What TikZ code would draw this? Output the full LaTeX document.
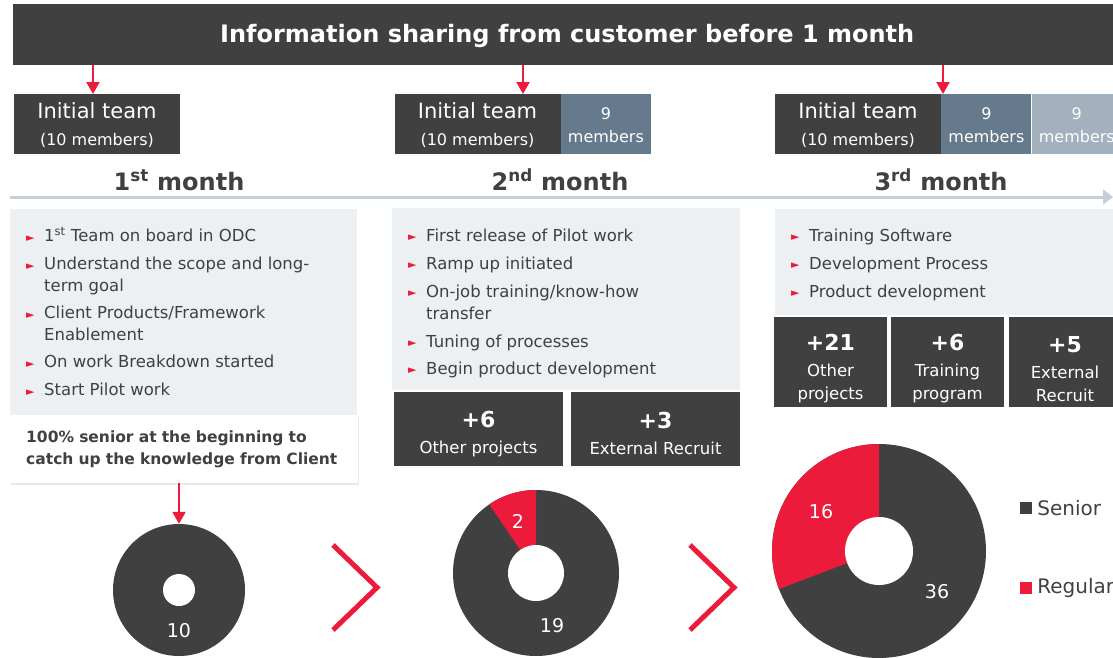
\documentclass[tikz,border=0pt]{standalone}
\usepackage{fontspec}
\setmainfont{DejaVu Sans}
\usetikzlibrary{arrows.meta,positioning,shadows}
\definecolor{dark}{HTML}{404040}
\definecolor{accent}{HTML}{ED1B3B}
\definecolor{slate}{HTML}{667A8D}
\definecolor{slatelt}{HTML}{A3B0BD}
\definecolor{panel}{HTML}{EDF0F3}
\definecolor{rail}{HTML}{C6CFD9}
\newcommand\bl{\makebox[18pt][l]{\raisebox{0.5pt}{\textcolor{accent}{\fontsize{11}{11}\selectfont ►}}}}
\newcommand\ind{\hspace*{18pt}}
\newcommand\firstln{\rule{0pt}{14pt}}
\newcommand\lift[1]{\rule{0pt}{#1pt}}

\begin{document}
\begin{tikzpicture}[x=1pt,y=-1pt,
  redarr/.style={accent,line width=2,-{Triangle[width=13pt,length=12pt]}},
  team/.style={fill=dark,text=white,minimum width=166,minimum height=60,inner sep=0,align=center,
    font=\fontsize{16}{27}\selectfont},
  nine/.style={fill=#1,text=white,minimum width=90,minimum height=60,inner sep=0,align=center,
    font=\fontsize{16}{23}\selectfont},
  month/.style={text=dark,font=\bfseries\fontsize{24}{28}\selectfont},
  plate/.style={fill=panel,anchor=north west,inner sep=0},
  list/.style={text=dark,anchor=north west,inner sep=0,align=left,font=\fontsize{16.5}{22}\selectfont},
  plus/.style={fill=dark,text=white,inner sep=0,align=center,font=\fontsize{16.5}{23}\selectfont},
  ring/.style={circle,fill=dark,inner sep=0},
  hole/.style={circle,fill=white,inner sep=0},
  num/.style={text=white,font=\fontsize{19}{19}\selectfont},
  sq/.style={minimum size=12,inner sep=0}]
\path[use as bounding box,clip] (0,0) rectangle (1113,657);

% header
\node[fill=dark,text=white,anchor=north west,minimum width=1108,minimum height=61,inner sep=0,
  font=\bfseries\fontsize{24}{28}\selectfont] (hdr) at (13,4) {\lift{21}Information sharing from customer before 1 month};

% teams
\node[team] (t1) at (97,124) {{\fontsize{21}{27}\selectfont\lift{18}Initial team}\\(10 members)};
\node[team] (t2) at (477.5,124) {{\fontsize{21}{27}\selectfont\lift{18}Initial team}\\(10 members)};
\node[nine=slate,right=0pt of t2] (t2b) {\lift{15}9\\members};
\node[team] (t3) at (858,124) {{\fontsize{21}{27}\selectfont\lift{18}Initial team}\\(10 members)};
\node[nine=slate,right=0pt of t3] (t3b) {\lift{15}9\\members};
\node[nine=slatelt,right=0pt of t3b] (t3c) {\lift{15}9\\members};
\coordinate (g1) at (93,94);
\coordinate (g2) at (523,94);
\coordinate (g3) at (943,94);
\foreach \g in {g1,g2,g3}
  \draw[redarr] (hdr.south -| \g) -- (\g);

% timeline
\coordinate (tl0) at (10,197);
\coordinate (tl1) at (1113,197);
\draw[rail,line width=3,-{Triangle[width=15pt,length=10pt]}] (tl0) -- (tl1);
\node[month] (m1) at (179,180) {1\textsuperscript{st} month};
\node[month] (m2) at (560,180) {2\textsuperscript{nd} month};
\node[month] (m3) at (941,180) {3\textsuperscript{rd} month};

% month 1
\node[plate,minimum width=347,minimum height=206] (p1) at (10,209) {};
\node[list] (l1) at (26,227) {\firstln\bl 1\textsuperscript{st} Team on board in ODC\\[6pt]
  \bl Understand the scope and long-\\\ind term goal\\[5pt]
  \bl Client Products/Framework\\\ind Enablement\\[5pt]
  \bl On work Breakdown started\\[6pt]
  \bl Start Pilot work};
\node[fill=white,anchor=north west,text width=316,inner xsep=16,minimum height=68,align=left,text=dark,
  font=\bfseries\fontsize{15.5}{22}\selectfont,
  drop shadow={opacity=0.18,shadow xshift=0.5pt,shadow yshift=-1.5pt}] (nt) at (10,415)
  {100\% senior at the beginning to\\catch up the knowledge from Client};

% month 2
\node[plate,minimum width=348,minimum height=182] (p2) at (392,208) {};
\node[list] (l2) at (408,227) {\firstln\bl First release of Pilot work\\[6pt]
  \bl Ramp up initiated\\[6pt]
  \bl On-job training/know-how\\\ind transfer\\[6pt]
  \bl Tuning of processes\\[5pt]
  \bl Begin product development};
\node[plus,minimum width=169,minimum height=74] (b21) at (478.5,429)
  {{\bfseries\fontsize{22}{23}\selectfont\lift{26}+6}\\[3pt]Other projects};
\node[plus,minimum width=169,minimum height=74] (b22) at (655.5,429)
  {{\bfseries\fontsize{22}{23}\selectfont\lift{26}+3}\\[3pt]External Recruit};

% month 3
\node[plate,minimum width=345,minimum height=106] (p3) at (775,209) {};
\node[list] (l3) at (791,227) {\firstln\bl Training Software\\[6pt]
  \bl Development Process\\[6pt]
  \bl Product development};
\node[plus,minimum width=113,minimum height=90] (b31) at (830.5,362)
  {{\bfseries\fontsize{22}{23}\selectfont\lift{30}+21}\\[3pt]Other\\projects};
\node[plus,minimum width=113,minimum height=90] (b32) at (947.5,362)
  {{\bfseries\fontsize{22}{23}\selectfont\lift{30}+6}\\[3pt]Training\\program};
\node[plus,minimum width=113,minimum height=90] (b33) at (1065,362)
  {{\bfseries\fontsize{22}{23}\selectfont\lift{30}+5}\\[3pt]External\\Recruit};

% donuts
\node[ring,minimum size=132] (d1) at (179,590) {};
\node[hole,minimum size=32] (h1) at (d1) {};
\node[num] (n1) at (179,631) {10};
\draw[redarr] (nt.south -| d1.north) -- (d1.north);

\node[ring,minimum size=166] (d2) at (536,573) {};
\fill[accent] (d2.center) -- ++(90:83pt) arc[start angle=90,end angle=124.3,radius=83pt] -- cycle;
\node[hole,minimum size=56] (h2) at (d2) {};
\node[num] (n2a) at (518,521) {2};
\node[num] (n2b) at (552,626) {19};

\node[ring,minimum size=214] (d3) at (879,551) {};
\fill[accent] (d3.center) -- ++(90:107pt) arc[start angle=90,end angle=200.8,radius=107pt] -- cycle;
\node[hole,minimum size=68] (h3) at (d3) {};
\node[num] (n3a) at (821,512) {16};
\node[num] (n3b) at (937,592) {36};

% chevrons
\draw[accent,line width=5] (333,545) -- (377,587.5) -- (333,630);
\draw[accent,line width=5] (690,545) -- (734,587.5) -- (690,630);

% legend
\node[sq,fill=dark] (ls) at (1026,508) {};
\node[right=5pt of ls,inner sep=0,text=dark,font=\fontsize{20}{20}\selectfont] (lst) {Senior};
\node[sq,fill=accent] (lr) at (1026,588) {};
\node[right=5pt of lr,inner sep=0,text=dark,font=\fontsize{20}{20}\selectfont] (lrt) {Regular};
\end{tikzpicture}
\end{document}
